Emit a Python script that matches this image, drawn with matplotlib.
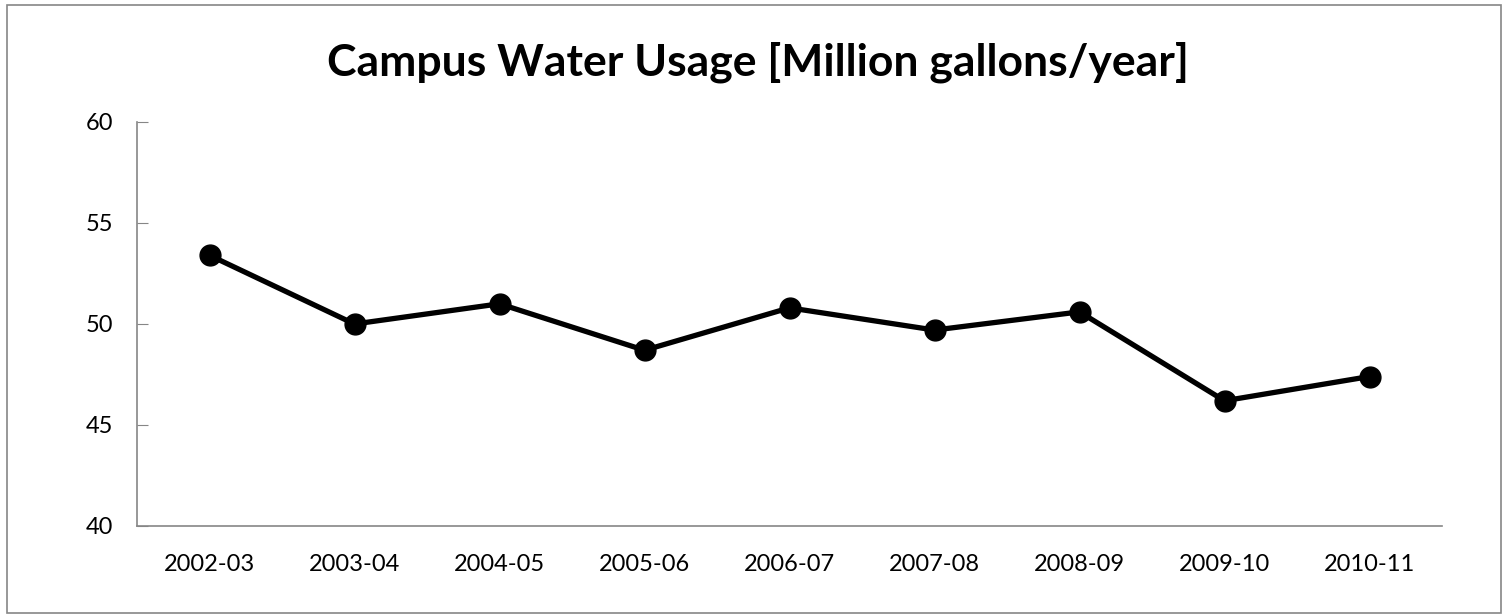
import matplotlib.pyplot as plt
from matplotlib.patches import Rectangle

years = ['2002-03', '2003-04', '2004-05', '2005-06', '2006-07',
         '2007-08', '2008-09', '2009-10', '2010-11']
usage = [53.4, 50.0, 51.0, 48.7, 50.8, 49.7, 50.6, 46.2, 47.4]

plt.rcParams['font.family'] = ['Lato', 'DejaVu Sans']

fig = plt.figure(figsize=(15.03, 6.14), dpi=100)
ax = fig.add_axes([137 / 1503, 1 - 526 / 614, 1305 / 1503, 404 / 614])

x = list(range(len(years)))
ax.plot(x, usage, color='black', linewidth=3.8, marker='o', markersize=15)

ax.set_xlim(-0.5, len(years) - 0.5)
ax.set_ylim(40, 60)
ax.set_yticks([40, 45, 50, 55, 60])
ax.set_xticks(x)
ax.set_xticklabels(years)

for s in ['top', 'right']:
    ax.spines[s].set_visible(False)
for s in ['left', 'bottom']:
    ax.spines[s].set_color('#868686')
    ax.spines[s].set_linewidth(1.2)

ax.tick_params(axis='y', direction='in', length=8, color='#868686', labelsize=17, pad=17)
ax.tick_params(axis='x', length=0, labelsize=17, pad=20)

fig.text(758 / 1503, 1 - 62 / 614, 'Campus Water Usage [Million gallons/year]',
         ha='center', va='center', fontsize=32, fontweight='bold')

fig.patches.append(Rectangle((7 / 1503, 1 / 614), 1494 / 1503, 608 / 614,
                             transform=fig.transFigure, fill=False,
                             edgecolor='#868686', linewidth=1.2))

fig.savefig('out.png', dpi=100)
